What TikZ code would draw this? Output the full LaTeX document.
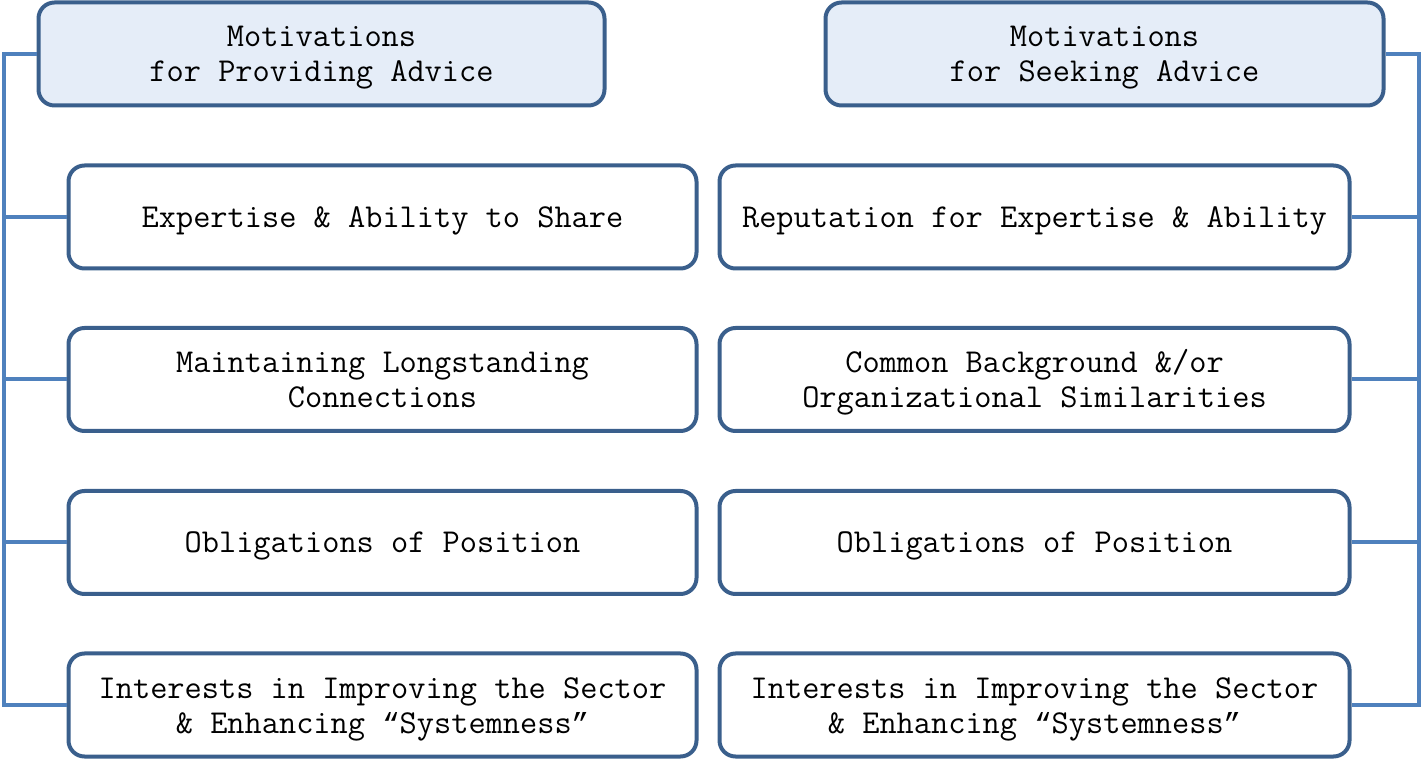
\documentclass[tikz,border=0pt]{standalone}
\usepackage{fontspec}
\newfontfamily\qfont{Liberation Mono}
\definecolor{boxedge}{HTML}{3A5F8C}
\definecolor{busline}{HTML}{4F81BD}
\definecolor{headfill}{HTML}{E5EDF8}
\newcommand{\btext}[1]{\raisebox{-3.5pt}[\height][\depth]{\begin{tabular}{@{}c@{}}#1\end{tabular}}}
\newcommand{\myopenq}{{\qfont\fontsize{29}{35}\selectfont “}}
\newcommand{\myclosq}{{\qfont\fontsize{29}{35}\selectfont ”}}
\tikzset{
  x=1pt,y=1pt,
  box/.style={draw=boxedge, line width=4pt, rounded corners=16pt, fill=white,
    inner sep=0pt, minimum height=103pt,
    font=\ttfamily\fontsize{33.4}{35}\selectfont},
  head/.style={box, fill=headfill},
  bus/.style={draw=busline, line width=4pt, line join=miter}
}
\begin{document}
\begin{tikzpicture}
\useasboundingbox (0,0) rectangle (1423,760);
% left column
\node[head, minimum width=566pt] (h1) at (321.5,706) {\btext{Motivations\\for Providing Advice}};
\node[box, minimum width=628pt] (l1) at (382.5,543) {\btext{Expertise \& Ability to Share}};
\node[box, minimum width=628pt] (l2) at (382.5,380.5) {\btext{Maintaining Longstanding\\Connections}};
\node[box, minimum width=628pt] (l3) at (382.5,217.5) {\btext{Obligations of Position}};
\node[box, minimum width=628pt] (l4) at (382.5,55) {\btext{Interests in Improving the Sector\\\& Enhancing \myopenq Systemness\myclosq}};
% right column
\node[head, minimum width=558pt] (h2) at (1104.5,706) {\btext{Motivations\\for Seeking Advice}};
\node[box, minimum width=630pt] (r1) at (1034.5,543) {\btext{Reputation for Expertise \& Ability}};
\node[box, minimum width=630pt] (r2) at (1034.5,380.5) {\btext{Common Background \&/or\\Organizational Similarities}};
\node[box, minimum width=630pt] (r3) at (1034.5,217.5) {\btext{Obligations of Position}};
\node[box, minimum width=630pt] (r4) at (1034.5,55) {\btext{Interests in Improving the Sector\\\& Enhancing \myopenq Systemness\myclosq}};
% buses
\coordinate (bl) at (4,0);
\coordinate (br) at (1419,0);
\draw[bus] (h1.west) -- (h1.west -| bl) -- (l4.west -| bl) -- (l4.west);
\draw[bus] (l1.west -| bl) -- (l1.west);
\draw[bus] (l2.west -| bl) -- (l2.west);
\draw[bus] (l3.west -| bl) -- (l3.west);
\draw[bus] (h2.east) -- (h2.east -| br) -- (r4.east -| br) -- (r4.east);
\draw[bus] (r1.east -| br) -- (r1.east);
\draw[bus] (r2.east -| br) -- (r2.east);
\draw[bus] (r3.east -| br) -- (r3.east);
\end{tikzpicture}
\end{document}
